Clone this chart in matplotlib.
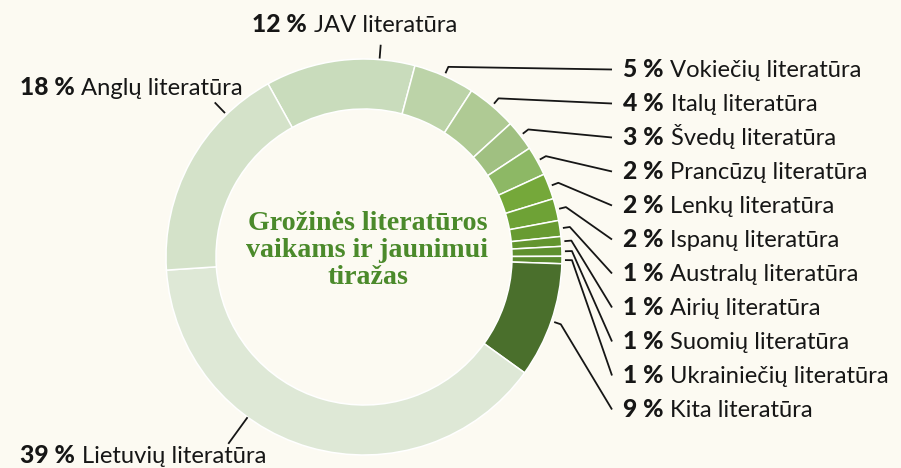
import matplotlib
matplotlib.use("Agg")
import matplotlib.pyplot as plt
import numpy as np

# ---- data (drawing order, clockwise from the top) ----
categories = ["JAV", "Vokiečių", "Italų", "Švedų", "Prancūzų", "Lenkų", "Ispanų",
              "Australų", "Airių", "Suomių", "Ukrainiečių", "Kita", "Lietuvių", "Anglų"]
label_pct = [12, 5, 4, 3, 2, 2, 2, 1, 1, 1, 1, 9, 39, 18]
shares = [12.2, 5.0, 4.1, 2.5, 2.4, 2.1, 1.8, 1.3, 0.8, 0.8, 0.6, 9.4, 39.0, 18.0]
title_lines = ["Grožinės literatūros", "vaikams ir jaunimui", "tiražas"]

# ---- style ----
W, H = 901, 468
BG = "#fcfaf2"
colors = ["#c9dcbc", "#bcd3a8", "#afca94", "#a0c081", "#8db865", "#75a83a", "#6ea236",
          "#689b31", "#63952f", "#5f902f", "#5a8a2e", "#4a6f2c", "#dee8d6", "#d4e2c9"]
CX, CY = 364, 257          # pixel centre
R, RING = 198, 50
TXT = "#161616"
SANS = "Lato"

fig = plt.figure(figsize=(W / 100, H / 100), dpi=100, facecolor=BG)
ax = fig.add_axes([0, 0, 1, 1])
ax.set_facecolor(BG)

def Y(py):
    return H - py

START = 119.0
ax.pie(shares, colors=colors, startangle=START, counterclock=False,
       radius=R, center=(CX, Y(CY)),
       wedgeprops=dict(width=RING, edgecolor="white", linewidth=1.1))
ax.set_xlim(0, W)
ax.set_ylim(0, H)
ax.set_aspect("auto")
ax.axis("off")

renderer = fig.canvas.get_renderer()

def fit_size(s, target_w, **kw):
    t = ax.text(0, 0, s, fontsize=10, **kw)
    w = t.get_window_extent(renderer).width
    t.remove()
    return 10 * target_w / w

FS_REG = fit_size("Vokiečių literatūra", 192, family=SANS)
FS_BOLD = min(fit_size("12 %", 55, family=SANS, fontweight="black"), FS_REG * 1.05)
FS_TITLE = fit_size(title_lines[0], 240, family="Liberation Serif", fontweight="bold")

def two_part(x, py, bold, reg, ha="left"):
    t1 = ax.text(0, 0, bold, fontsize=FS_BOLD, fontweight="black", family=SANS, color=TXT, va="baseline")
    t2 = ax.text(0, 0, reg, fontsize=FS_REG, family=SANS, color=TXT, va="baseline")
    w1 = t1.get_window_extent(renderer).width
    w2 = t2.get_window_extent(renderer).width
    gap = 7.0
    total = w1 + gap + w2
    if ha == "left":
        x0 = x
    elif ha == "right":
        x0 = x - total
    else:
        x0 = x - total / 2
    t1.set_position((x0, Y(py)))
    t2.set_position((x0 + w1 + gap, Y(py)))

# angles of slice middles
cum = np.cumsum([0] + shares)
mids = START - (cum[:-1] + np.array(shares) / 2) * 3.6

def pol(ang, r):
    a = np.deg2rad(ang)
    return CX + r * np.cos(a), CY - r * np.sin(a)

name_suffix = " literatūra"

# right-side labels: indices 1..11
right_idx = list(range(1, 12))
for k, i in enumerate(right_idx):
    base = 77 + 34 * k
    two_part(623, base, f"{label_pct[i]} %", categories[i] + name_suffix)
    p1 = pol(mids[i], R + 3)
    p2 = pol(mids[i], R + 10)
    p3 = (612, base - 7.5)
    xs = [p1[0], p2[0], p3[0]]
    ys = [Y(p1[1]), Y(p2[1]), Y(p3[1])]
    ax.plot(xs, ys, color=TXT, lw=1.3, solid_capstyle="butt")

# JAV (top)
two_part(354.5, 32, f"{label_pct[0]} %", categories[0] + name_suffix, ha="center")
a, b = pol(85.5, 200), pol(85.5, 212)
ax.plot([a[0], b[0]], [Y(a[1]), Y(b[1])], color=TXT, lw=1.3)

# Anglų (left)
two_part(243, 95, f"{label_pct[13]} %", categories[13] + name_suffix, ha="right")
a, b = pol(134, 201), pol(134, 214)
ax.plot([a[0], b[0]], [Y(a[1]), Y(b[1])], color=TXT, lw=1.3)

# Lietuvių (bottom)
two_part(20, 463, f"{label_pct[12]} %", categories[12] + name_suffix)
a, b = pol(234, 199), pol(234, 230)
ax.plot([a[0], b[0]], [Y(a[1]), Y(b[1])], color=TXT, lw=1.3)

# centre title
for j, line in enumerate(title_lines):
    ax.text(367.5, Y(230 + 27 * j), line, ha="center", va="baseline",
            fontsize=FS_TITLE, fontweight="bold", family="Liberation Serif", color="#4b8a2b")

fig.savefig("out.png", dpi=100, facecolor=BG)
